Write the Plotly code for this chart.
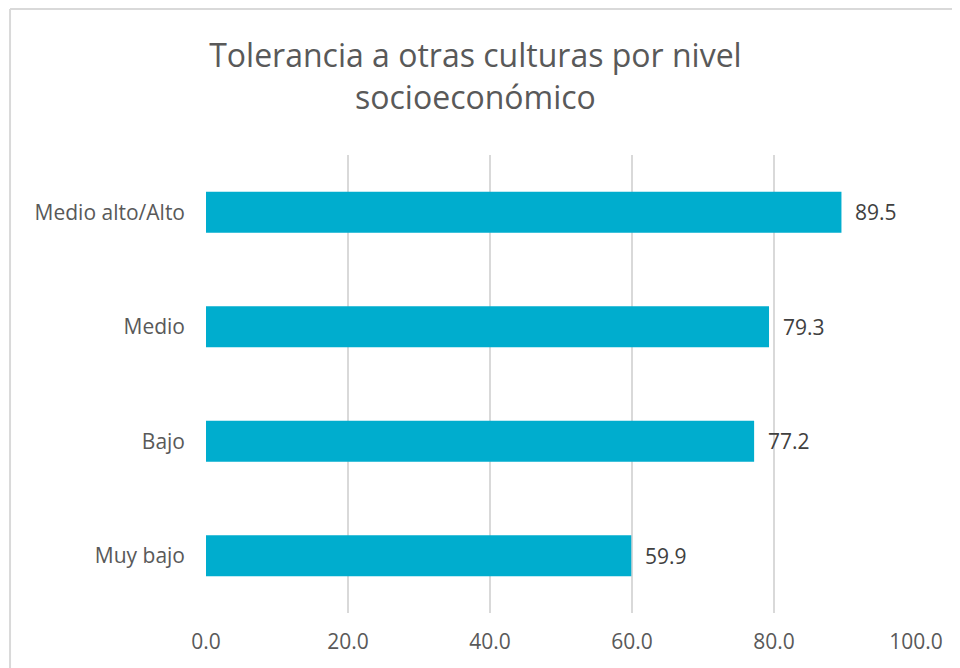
import plotly.graph_objects as go

categories = ['Muy bajo', 'Bajo', 'Medio', 'Medio alto/Alto']
values = [59.9, 77.2, 79.3, 89.5]
x_ticks = [0, 20, 40, 60, 80, 100]
x_tick_labels = ['0.0', '20.0', '40.0', '60.0', '80.0', '100.0']

bar_color = '#00ADCE'
text_color = '#595959'
grid_color = '#D9D9D9'


def make_plot():
    fig = go.Figure(go.Bar(
        x=values,
        y=categories,
        orientation='h',
        marker=dict(color=bar_color, line=dict(width=0)),
        hovertemplate='%{y}<br>%{x:.1f}<extra></extra>',
    ))

    # data labels to the right of each bar
    for cat, val in zip(categories, values):
        fig.add_annotation(
            x=val, y=cat, text=f'{val:.1f}',
            xanchor='left', xshift=12, showarrow=False,
            font=dict(size=21, color='#404040'),
        )

    # chart frame: only the top and left edges are inside the picture
    frame = dict(color=grid_color, width=2)
    fig.add_shape(type='line', xref='paper', yref='paper',
                  x0=-0.276, x1=1.3, y0=1.319, y1=1.319,
                  line=frame, layer='below')
    fig.add_shape(type='line', xref='paper', yref='paper',
                  x0=-0.276, x1=-0.276, y0=-0.4, y1=1.319,
                  line=frame, layer='below')

    fig.update_layout(
        width=952,
        height=660,
        template='plotly_white',
        paper_bgcolor='white',
        plot_bgcolor='white',
        font=dict(family='Open Sans', color=text_color, size=21),
        title=dict(
            text='Tolerancia a otras culturas por nivel<br>socioeconómico',
            x=0.491, xanchor='center',
            y=0.91, yanchor='top',
            font=dict(size=32, color=text_color),
        ),
        margin=dict(l=198, r=44, t=147, b=55),
        bargap=0.64,
        showlegend=False,
        xaxis=dict(
            range=[0, 100],
            tickvals=x_ticks,
            ticktext=x_tick_labels,
            showgrid=True,
            gridcolor=grid_color,
            gridwidth=1.5,
            zeroline=False,
            showline=False,
            ticks='',
            ticklabelstandoff=14,
            tickfont=dict(size=21, color=text_color),
        ),
        yaxis=dict(
            showgrid=False,
            zeroline=False,
            showline=False,
            ticks='',
            ticklabelstandoff=20,
            tickfont=dict(size=21, color=text_color),
        ),
    )
    return fig


fig = make_plot()
fig.write_html('out.html')
